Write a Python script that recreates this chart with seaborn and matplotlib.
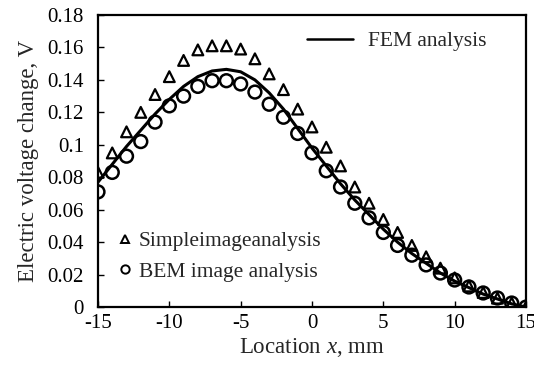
import matplotlib
matplotlib.use("Agg")
import matplotlib.pyplot as plt
import numpy as np
import pandas as pd
import seaborn as sns
from matplotlib.lines import Line2D
from matplotlib.ticker import FuncFormatter

# location along the crack, mm
location = list(range(-15, 16))

fem = [0.077, 0.088, 0.099, 0.109, 0.119, 0.128, 0.136, 0.142, 0.1455, 0.1465,
       0.145, 0.140, 0.132, 0.122, 0.110, 0.098, 0.087, 0.076, 0.066, 0.057,
       0.048, 0.040, 0.033, 0.027, 0.021, 0.016, 0.012, 0.008, 0.005, 0.002, 0.0]

simple_image = [0.083, 0.095, 0.108, 0.120, 0.131, 0.142, 0.152, 0.1585, 0.161, 0.161,
                0.159, 0.153, 0.1437, 0.134, 0.122, 0.111, 0.0985, 0.087, 0.074, 0.064,
                0.054, 0.046, 0.038, 0.031, 0.024, 0.018, 0.013, 0.009, 0.0055, 0.0025, 0.0]

bem_image = [0.071, 0.083, 0.093, 0.102, 0.114, 0.124, 0.130, 0.136, 0.1395, 0.1395,
             0.1375, 0.1325, 0.125, 0.117, 0.107, 0.095, 0.084, 0.074, 0.064, 0.055,
             0.046, 0.038, 0.032, 0.026, 0.021, 0.0167, 0.0124, 0.0087, 0.0056, 0.0025, 0.0]

df = pd.DataFrame({"x": location, "fem": fem, "simple": simple_image, "bem": bem_image})

sns.set_style("ticks")
plt.rcParams["font.family"] = ["Liberation Serif", "DejaVu Serif"]
plt.rcParams["mathtext.fontset"] = "custom"
plt.rcParams["mathtext.rm"] = "Liberation Serif"
plt.rcParams["mathtext.it"] = "Liberation Serif:italic"
plt.rcParams["axes.unicode_minus"] = False

fig = plt.figure(figsize=(5.34, 3.70), dpi=100)
ax = fig.add_axes([0.1835, 0.170, 0.8015, 0.7895])

sns.lineplot(data=df, x="x", y="fem", ax=ax, color="black", linewidth=2.2)
sns.scatterplot(data=df, x="x", y="simple", ax=ax, marker="^", s=60,
                facecolors="none", edgecolor="black", linewidth=1.6, zorder=3)
sns.scatterplot(data=df, x="x", y="bem", ax=ax, marker="o", s=85,
                facecolors="none", edgecolor="black", linewidth=1.8, zorder=4)

ax.set_xlim(-15, 15)
ax.set_ylim(0, 0.18)
ax.set_xticks(range(-15, 16, 5))
ax.set_yticks(np.arange(0, 0.181, 0.02))
ax.yaxis.set_major_formatter(FuncFormatter(lambda v, p: f"{round(v, 2):g}"))
ax.tick_params(direction="in", length=4, width=1, labelsize=15, colors="black")
ax.tick_params(axis="y", pad=10)
ax.tick_params(axis="x", pad=5)
for sp in ax.spines.values():
    sp.set_linewidth(1.6)
    sp.set_color("black")

ax.set_xlabel("Location $x$, mm", fontsize=16.5, labelpad=2)
ax.set_ylabel("Electric voltage change, V", fontsize=16.5, labelpad=6)

fem_handle = [Line2D([], [], color="black", linewidth=1.8)]
leg1 = ax.legend(fem_handle, ["FEM analysis"], loc="upper left", frameon=False,
                 fontsize=15.5, handlelength=2.14, handletextpad=0.7,
                 borderpad=0, borderaxespad=0, bbox_to_anchor=(0.488, 0.945))
ax.add_artist(leg1)

marker_handles = [
    Line2D([], [], linestyle="", marker="^", markersize=6, markerfacecolor="none",
           markeredgecolor="black", markeredgewidth=1.4),
    Line2D([], [], linestyle="", marker="o", markersize=6, markerfacecolor="none",
           markeredgecolor="black", markeredgewidth=1.4),
]
ax.legend(marker_handles, ["Simpleimageanalysis", "BEM image analysis"],
          loc="upper left", frameon=False, fontsize=15.5, handlelength=1.0,
          handletextpad=0.15, labelspacing=0.49, borderpad=0, borderaxespad=0,
          bbox_to_anchor=(0.037, 0.26))

fig.savefig("out.png", dpi=100)
